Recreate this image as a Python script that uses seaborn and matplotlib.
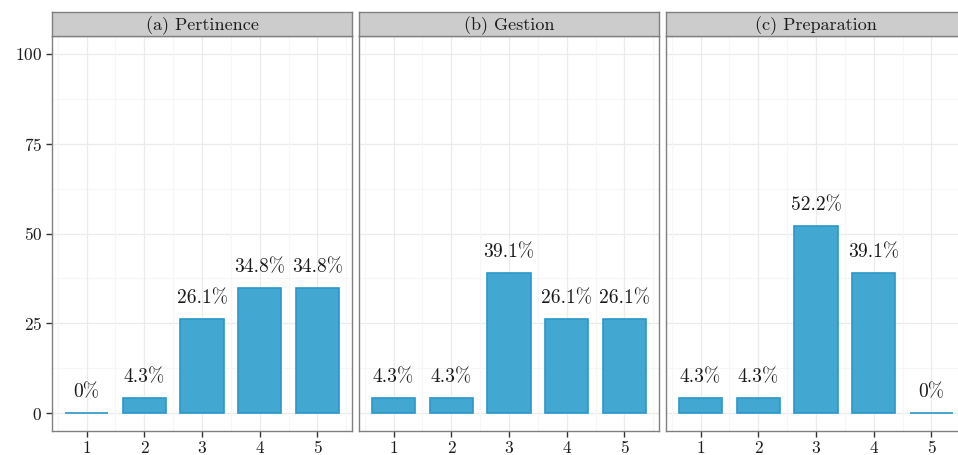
import matplotlib
matplotlib.use("Agg")
import matplotlib.pyplot as plt
import seaborn as sns
import pandas as pd

panels = ["(a) Pertinence", "(b) Gestion", "(c) Preparation"]
scores = ["1", "2", "3", "4", "5"]
pertinence = [0, 4.3, 26.1, 34.8, 34.8]
gestion = [4.3, 4.3, 39.1, 26.1, 26.1]
preparation = [4.3, 4.3, 52.2, 39.1, 0]
series = [pertinence, gestion, preparation]

sns.set_theme(style="white")
plt.rcParams["font.family"] = ["cmr10", "DejaVu Serif"]
plt.rcParams["mathtext.fontset"] = "cm"
plt.rcParams["axes.unicode_minus"] = False
plt.rcParams["axes.formatter.use_mathtext"] = True

fill = "#42A8D1"
edge = "#2A97C9"
spine_col = "#808080"

fig = plt.figure(figsize=(9.58, 4.55), dpi=100)
W, H = 958, 455
lefts = [52, 359, 666]
pw = 300
top_px, bot_px = 36, 431

for i, (name, vals) in enumerate(zip(panels, series)):
    l = lefts[i]
    ax = fig.add_axes([l / W, (H - bot_px) / H, pw / W, (bot_px - top_px) / H])
    df = pd.DataFrame({"score": scores, "pct": vals})
    sns.barplot(data=df, x="score", y="pct", ax=ax, width=0.75, color=fill,
                edgecolor=edge, linewidth=1.2, saturation=1, zorder=3)
    ax.set_xlim(-0.6, 4.6)
    ax.set_ylim(-5, 105)
    ax.set_xlabel("")
    ax.set_ylabel("")
    for yv in [0, 25, 50, 75, 100]:
        ax.axhline(yv, color="#EBEBEB", lw=0.9, zorder=0)
    for yv in [12.5, 37.5, 62.5, 87.5]:
        ax.axhline(yv, color="#F6F6F6", lw=0.8, zorder=0)
    for xv in range(5):
        ax.axvline(xv, color="#EBEBEB", lw=0.9, zorder=0)
    for xv in [-0.5, 0.5, 1.5, 2.5, 3.5, 4.5]:
        ax.axvline(xv, color="#F6F6F6", lw=0.8, zorder=0)
    ax.set_yticks([0, 25, 50, 75, 100])
    ax.tick_params(axis="both", which="major", length=4, width=1, color="#333333",
                   labelsize=12.5, labelcolor="#1a1a1a", pad=3, direction="out",
                   bottom=True, left=(i == 0))
    if i != 0:
        ax.set_yticklabels([])
    for s in ax.spines.values():
        s.set_color(spine_col)
        s.set_linewidth(1.0)
    for j, v in enumerate(vals):
        lab = f"{v:g}%"
        ax.text(j, v + 3.3, lab, ha="center", va="bottom", fontsize=14, color="#1a1a1a")
    sax = fig.add_axes([l / W, (H - top_px) / H, pw / W, 24 / H])
    sax.set_xticks([]); sax.set_yticks([])
    sax.set_facecolor("#CCCCCC")
    for s in sax.spines.values():
        s.set_color(spine_col)
        s.set_linewidth(1.0)
    sax.text(0.5, 0.45, name, ha="center", va="center", fontsize=13,
             color="#1a1a1a", transform=sax.transAxes)

fig.savefig("out.png", dpi=100)
